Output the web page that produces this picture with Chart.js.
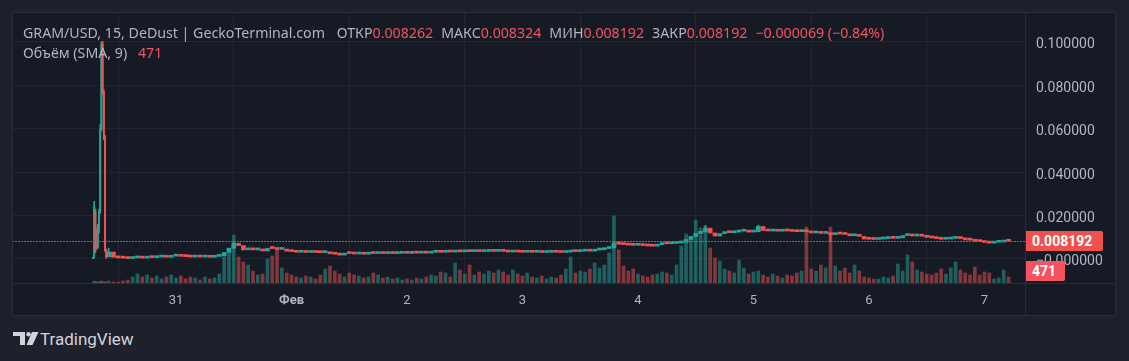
<!DOCTYPE html>
<html>
<head>
<meta charset="utf-8">
<script src="https://cdn.jsdelivr.net/npm/chart.js@4/dist/chart.umd.min.js"></script>
<style>
  html, body { margin: 0; padding: 0; width: 1129px; height: 361px; overflow: hidden; background: #1e212b; font-family: Roboto, "Noto Sans", sans-serif; }
  #panel  { position: absolute; left: 12px; top: 12px; width: 1103px; height: 303px; background: #161a25; }
  #panel canvas { position: absolute; left: 0; top: 0; }
  .rule   { position: absolute; background: #2a2e39; }
  #legend { position: absolute; left: 23px; top: 23px; font-family: "Noto Sans", sans-serif; font-size: 14.2px; line-height: 20px; color: #b2b5be; white-space: pre; }
  #legend .v { color: #f7525f; }
  #legend .g { margin-left: 8px; }
  #legend .sma { margin-left: 7px; }
  .tag    { position: absolute; left: 1026px; height: 20px; line-height: 20px; color: #fff; font-size: 14px; font-weight: bold; padding-left: 6px; border-radius: 0 2px 2px 0; }
  #priceTag { width: 71px; background: #f0514f; }
  #volTag   { width: 33px; background: #f7525f; }
  #brand  { position: absolute; left: 12px; top: 329px; height: 20px; }
  #brand span { position: absolute; left: 28px; top: 0; font-size: 17px; line-height: 20px; color: #d1d4dc; }
</style>
</head>
<body>
<div id="panel"><canvas id="gramChart" width="1103" height="303"></canvas></div>
<div class="rule" style="left:12px;top:12px;width:1104px;height:1px"></div>
<div class="rule" style="left:12px;top:315px;width:1104px;height:1px"></div>
<div class="rule" style="left:12px;top:12px;width:1px;height:304px"></div>
<div class="rule" style="left:1115px;top:12px;width:1px;height:304px"></div>
<div class="rule" style="left:1025px;top:12px;width:1px;height:304px"></div>
<div class="rule" style="left:12px;top:283px;width:1104px;height:1px"></div>

<div id="legend"><div>GRAM/USD, 15, DeDust | GeckoTerminal.com <span class="g">ОТКР</span><span class="v">0.008262</span><span class="g">МАКС</span><span class="v">0.008324</span><span class="g">МИН</span><span class="v">0.008192</span><span class="g">ЗАКР</span><span class="v">0.008192</span><span class="g v">−0.000069 (−0.84%)</span></div><div>Объём (SMA, 9) <span class="sma v">471</span></div></div>

<div class="tag" id="priceTag">0.008192</div>
<div class="tag" id="volTag">471</div>

<div id="brand">
  <svg width="28" height="20" viewBox="0 0 28 20">
    <rect x="1" y="3" width="12" height="4" fill="#d1d4dc"/>
    <rect x="8" y="3" width="5" height="13" fill="#d1d4dc"/>
    <circle cx="16.5" cy="5.2" r="2.2" fill="#d1d4dc"/>
    <polygon points="20,3 26.5,3 20.5,16 14.5,16" fill="#d1d4dc"/>
  </svg>
  <span>TradingView</span>
</div>

<script>
// ─── GRAM/USD 15m snapshot — x values are hours from 31 Jan 00:00 ─────────────

const dayTicks  = [0, 24, 48, 72, 96, 120, 144, 168];
const dayLabels = ['31', 'Фев', '2', '3', '4', '5', '6', '7'];
const priceTicks      = [0, 0.02, 0.04, 0.06, 0.08, 0.1];
const priceTickLabels = ['−0.000000', '0.020000', '0.040000', '0.060000', '0.080000', '0.100000'];

// launch spike, 15-minute candles
const launchHours  = [-17.25, -17, -16.75, -16.5, -16.25, -16, -15.75, -15.5, -15.25, -15, -14.75, -14.5];
const launchOpen   = [0.0002, 0.0006, 0.0220, 0.0120, 0.0055, 0.0134, 0.0217, 0.0600, 0.0990, 0.0770, 0.0560, 0.0040];
const launchClose  = [0.0006, 0.0240, 0.0040, 0.0055, 0.0150, 0.0217, 0.0600, 0.0990, 0.0770, 0.0560, 0.0040, 0.0010];
const launchHigh   = [0.0007, 0.0265, 0.0230, 0.0140, 0.0160, 0.0230, 0.0620, 0.1000, 0.1003, 0.0780, 0.0570, 0.0045];
const launchLow    = [0.0001, 0.0005, 0.0030, 0.0045, 0.0050, 0.0120, 0.0210, 0.0590, 0.0760, 0.0550, 0.0035, 0.0003];
const launchVolume = [40, 80, 60, 40, 40, 40, 60, 80, 60, 40, 40, 40];

// after launch, hourly candles (hour -14 … 173)
const hourFirst = -14;
const hourOpen = [
  0.0010, 0.0032, 0.0008, 0.0005, 0.0004, 0.0002, 0.0005, 0.0006, 0.0004, 0.0007, 0.0006, 0.0009, 0.0010, 0.0008,
  0.0013, 0.0014, 0.0012, 0.0011, 0.0009, 0.0011, 0.0009, 0.0010, 0.0008, 0.0012, 0.0014, 0.0030, 0.0050, 0.0072,
  0.0062, 0.0042, 0.0046, 0.0042, 0.0044, 0.0037, 0.0049, 0.0048, 0.0044, 0.0046, 0.0036, 0.0034, 0.0031, 0.0032,
  0.0030, 0.0031, 0.0030, 0.0029, 0.0030, 0.0024, 0.0022, 0.0018, 0.0026, 0.0025, 0.0023, 0.0024, 0.0022, 0.0026,
  0.0025, 0.0026, 0.0025, 0.0027, 0.0025, 0.0026, 0.0027, 0.0026, 0.0028, 0.0027, 0.0028, 0.0027, 0.0031, 0.0032,
  0.0031, 0.0033, 0.0032, 0.0034, 0.0033, 0.0035, 0.0034, 0.0035, 0.0034, 0.0035, 0.0036, 0.0035, 0.0036, 0.0035,
  0.0032, 0.0033, 0.0032, 0.0031, 0.0032, 0.0031, 0.0032, 0.0030, 0.0031, 0.0032, 0.0031, 0.0030, 0.0032, 0.0035,
  0.0034, 0.0036, 0.0037, 0.0036, 0.0041, 0.0043, 0.0048, 0.0052, 0.0073, 0.0068, 0.0066, 0.0064, 0.0063, 0.0064,
  0.0062, 0.0060, 0.0059, 0.0066, 0.0071, 0.0070, 0.0072, 0.0074, 0.0077, 0.0090, 0.0104, 0.0118, 0.0125, 0.0142,
  0.0120, 0.0106, 0.0117, 0.0122, 0.0121, 0.0124, 0.0128, 0.0131, 0.0124, 0.0126, 0.0150, 0.0131, 0.0129, 0.0130,
  0.0128, 0.0130, 0.0129, 0.0127, 0.0126, 0.0127, 0.0125, 0.0120, 0.0121, 0.0118, 0.0119, 0.0112, 0.0116, 0.0115,
  0.0113, 0.0107, 0.0108, 0.0104, 0.0092, 0.0091, 0.0090, 0.0092, 0.0094, 0.0096, 0.0095, 0.0097, 0.0108, 0.0110,
  0.0106, 0.0107, 0.0105, 0.0100, 0.0097, 0.0094, 0.0091, 0.0092, 0.0095, 0.0097, 0.0094, 0.0088, 0.0087, 0.0082,
  0.0080, 0.0076, 0.0073, 0.0077, 0.0078, 0.0083
];
const hourClose = [
  0.0032, 0.0008, 0.0005, 0.0004, 0.0002, 0.0005, 0.0006, 0.0004, 0.0007, 0.0006, 0.0009, 0.0010, 0.0008, 0.0013,
  0.0014, 0.0012, 0.0011, 0.0009, 0.0011, 0.0009, 0.0010, 0.0008, 0.0012, 0.0014, 0.0030, 0.0050, 0.0072, 0.0062,
  0.0042, 0.0046, 0.0042, 0.0044, 0.0037, 0.0049, 0.0048, 0.0044, 0.0046, 0.0036, 0.0034, 0.0031, 0.0032, 0.0030,
  0.0031, 0.0030, 0.0029, 0.0030, 0.0024, 0.0022, 0.0018, 0.0026, 0.0025, 0.0023, 0.0024, 0.0022, 0.0026, 0.0025,
  0.0026, 0.0025, 0.0027, 0.0025, 0.0026, 0.0027, 0.0026, 0.0028, 0.0027, 0.0028, 0.0027, 0.0031, 0.0032, 0.0031,
  0.0033, 0.0032, 0.0034, 0.0033, 0.0035, 0.0034, 0.0035, 0.0034, 0.0035, 0.0036, 0.0035, 0.0036, 0.0035, 0.0032,
  0.0033, 0.0032, 0.0031, 0.0032, 0.0031, 0.0032, 0.0030, 0.0031, 0.0032, 0.0031, 0.0030, 0.0032, 0.0035, 0.0034,
  0.0036, 0.0037, 0.0036, 0.0041, 0.0043, 0.0048, 0.0052, 0.0073, 0.0068, 0.0066, 0.0064, 0.0063, 0.0064, 0.0062,
  0.0060, 0.0059, 0.0066, 0.0071, 0.0070, 0.0072, 0.0074, 0.0077, 0.0090, 0.0104, 0.0118, 0.0125, 0.0142, 0.0120,
  0.0106, 0.0117, 0.0122, 0.0121, 0.0124, 0.0128, 0.0131, 0.0124, 0.0126, 0.0150, 0.0131, 0.0129, 0.0130, 0.0128,
  0.0130, 0.0129, 0.0127, 0.0126, 0.0127, 0.0125, 0.0120, 0.0121, 0.0118, 0.0119, 0.0112, 0.0116, 0.0115, 0.0113,
  0.0107, 0.0108, 0.0104, 0.0092, 0.0091, 0.0090, 0.0092, 0.0094, 0.0096, 0.0095, 0.0097, 0.0108, 0.0110, 0.0106,
  0.0107, 0.0105, 0.0100, 0.0097, 0.0094, 0.0091, 0.0092, 0.0095, 0.0097, 0.0094, 0.0088, 0.0087, 0.0082, 0.0080,
  0.0076, 0.0073, 0.0077, 0.0078, 0.0083, 0.008192
];
const hourVolume = [
  80, 40, 40, 80, 120, 240, 360, 240, 320, 200, 280, 160, 240, 320,
  200, 280, 160, 240, 200, 120, 240, 160, 200, 360, 1040, 1200, 1920, 1040,
  840, 720, 480, 320, 360, 960, 1080, 1360, 600, 400, 320, 240, 200, 280,
  240, 160, 320, 560, 680, 480, 360, 240, 400, 320, 280, 200, 240, 400,
  320, 200, 240, 160, 200, 120, 160, 120, 200, 160, 240, 320, 280, 440,
  400, 240, 800, 520, 360, 720, 320, 440, 360, 480, 400, 520, 440, 320,
  520, 360, 280, 400, 240, 200, 280, 160, 240, 200, 320, 560, 1040, 400,
  480, 440, 560, 800, 600, 720, 1200, 2680, 1320, 680, 480, 560, 360, 280,
  240, 320, 360, 440, 400, 320, 720, 1480, 1960, 1800, 2520, 2200, 2280, 1400,
  1000, 880, 560, 480, 400, 920, 600, 360, 440, 480, 320, 240, 360, 280,
  200, 320, 280, 400, 480, 2240, 560, 480, 720, 600, 2240, 680, 480, 600,
  400, 720, 480, 240, 200, 160, 160, 240, 200, 280, 760, 480, 1120, 840,
  520, 440, 360, 320, 400, 560, 360, 600, 840, 520, 400, 320, 640, 320,
  440, 400, 160, 200, 520, 240
];

// visible wicks that stick out of the hourly bodies
const wickHours = [-14, 12, 91, 110, 121, 136];
const wickLow   = [0.0010, 0.0048, 0.0050, 0.0125, 0.0125, 0.0080];
const wickHigh  = [0.0050, 0.0078, 0.0078, 0.0154, 0.0156, 0.0120];

const volumeSma = 471;

const UP = '#26a69a', DOWN = '#ef5350';
const UP_VOL = 'rgba(38,166,154,0.5)', DOWN_VOL = 'rgba(239,83,80,0.5)';
const FONT = 'Roboto, "Noto Sans", sans-serif';

const hours = hourClose.map((_, i) => hourFirst + i);
const lastPrice = hourClose[hourClose.length - 1];

const body = (hs, os, cs) => hs.map((h, i) => ({ x: h, y: [Math.min(os[i], cs[i]), Math.max(os[i], cs[i])] }));
const tint = (os, cs, up, down) => cs.map((c, i) => c >= os[i] ? up : down);
const hourIsUp = h => { const i = h - hourFirst; return hourClose[i] >= hourOpen[i]; };

// dotted last-price line + html axis tags placed from the scales
const priceLine = {
  id: 'priceLine',
  afterDatasetsDraw(chart) {
    const { ctx, chartArea: a, scales } = chart;
    const yPx = Math.round(scales.y.getPixelForValue(lastPrice));
    ctx.save();
    ctx.fillStyle = '#f23645';
    for (let x = Math.round(a.left); x < a.right; x += 3) ctx.fillRect(x, yPx, 2, 1);
    ctx.restore();
    document.getElementById('priceTag').style.top = (12 + yPx - 10) + 'px';
    document.getElementById('volTag').style.top   = (12 + Math.round(scales.vol.getPixelForValue(volumeSma)) - 10) + 'px';
  }
};

new Chart(document.getElementById('gramChart'), {
  type: 'bar',
  data: {
    datasets: [
      { label: 'wicks', data: wickHours.map((h, i) => ({ x: h, y: [wickLow[i], wickHigh[i]] })),
        backgroundColor: wickHours.map(h => hourIsUp(h) ? UP : DOWN), barThickness: 1, order: 1 },
      { label: 'launch wicks', data: launchHours.map((h, i) => ({ x: h, y: [launchLow[i], launchHigh[i]] })),
        backgroundColor: tint(launchOpen, launchClose, UP, DOWN), barThickness: 1, order: 1 },
      { label: 'launch', data: body(launchHours, launchOpen, launchClose),
        backgroundColor: tint(launchOpen, launchClose, UP, DOWN), barThickness: 1.3, minBarLength: 1, order: 0 },
      { label: 'price', data: body(hours, hourOpen, hourClose),
        backgroundColor: tint(hourOpen, hourClose, UP, DOWN), barThickness: 4, minBarLength: 2, order: 0 },
      { label: 'launch volume', yAxisID: 'vol', data: launchHours.map((h, i) => ({ x: h, y: launchVolume[i] })),
        backgroundColor: tint(launchOpen, launchClose, UP_VOL, DOWN_VOL), barThickness: 1.2, order: 5 },
      { label: 'volume', yAxisID: 'vol', data: hours.map((h, i) => ({ x: h, y: hourVolume[i] })),
        backgroundColor: tint(hourOpen, hourClose, UP_VOL, DOWN_VOL), barThickness: 3, order: 5 },
    ]
  },
  options: {
    responsive: false,
    animation: false,
    devicePixelRatio: 1,
    layout: { padding: 0 },
    datasets: { bar: { grouped: false, borderWidth: 0 } },
    plugins: { legend: { display: false }, tooltip: { enabled: false } },
    scales: {
      x: {
        type: 'linear', min: -34.08, max: 176.42, offset: false,
        afterBuildTicks: s => { s.ticks = dayTicks.map(v => ({ value: v })); },
        afterFit: s => { s.height = 32; s.paddingLeft = 0; s.paddingRight = 0; },
        grid: { color: '#232632', drawTicks: false },
        border: { display: false },
        ticks: {
          padding: 10, color: '#b2b5be', maxRotation: 0, autoSkip: false,
          font: c => ({ family: FONT, size: 13, weight: c.index === 1 ? 'bold' : 'normal' }),
          callback: (v, i) => dayLabels[i],
        },
      },
      y: {
        position: 'right', min: -0.01106, max: 0.11382,
        afterBuildTicks: s => { s.ticks = priceTicks.map(v => ({ value: v })); },
        afterFit: s => { s.width = 90; s.paddingTop = 0; s.paddingBottom = 0; },
        grid: { color: '#232632', drawTicks: false },
        border: { display: false },
        ticks: {
          padding: 11, labelOffset: 3, color: '#b2b5be', font: { family: FONT, size: 14 },
          callback: (v, i) => priceTickLabels[i],
        },
      },
      vol: { display: false, min: 0, max: 10840 },
    },
  },
  plugins: [priceLine],
});
</script>
</body>
</html>
